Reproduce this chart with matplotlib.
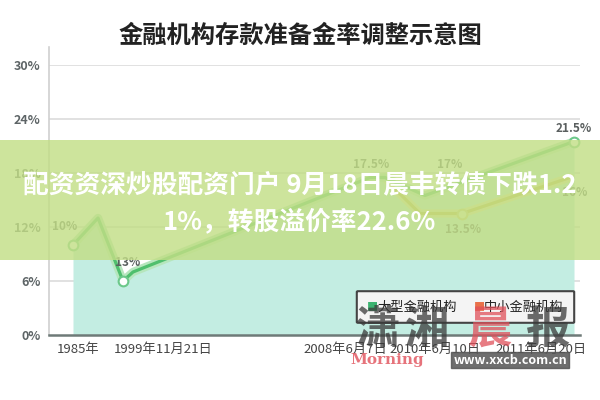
import matplotlib.pyplot as plt
from matplotlib.patches import Rectangle, FancyBboxPatch

plt.rcParams['font.family'] = ['Noto Sans CJK SC', 'DejaVu Sans']

# x 轴位置(非等距) 和数值
big_x = [73, 98, 123, 133, 370, 385, 425, 574]
big_y = [10, 13, 6, 7, 17.5, 17.5, 15.5, 21.5]
small_x = [385, 397, 420, 462, 570]
small_y = [17.5, 16, 13.5, 13.5, 17.5]

tick_pos = [78, 163, 345, 435, 541]
tick_lbl = ['1985年', '1999年11月21日', '2008年6月7日', '2010年6月10日', '2011年6月20日']
yticks = [0, 6, 12, 18, 24, 30]

# 数据标签
lab_txt = ['10%', '13%', '17.5%', '17%', '13.5%', '21.5%', '16%']
lab_x = [65, 128, 371, 450, 463, 574, 575]
lab_y = [12.0, 8.1, 19.0, 19.0, 11.7, 23.0, 15.8]

fig = plt.figure(figsize=(6, 4), dpi=100)
ax = fig.add_axes([49/600, 65/400, 531/600, 270/400])
ax.set_xlim(49, 580)
ax.set_ylim(0, 30)

for v in yticks[1:]:
    ax.axhline(v, color='#dcdcdc', lw=1.2, zorder=0)
ax.fill_between(big_x, big_y, 0, color='#c3ede2', zorder=1, lw=0)
ax.plot(small_x, small_y, color='#ebe3a4', lw=6, solid_capstyle='round', zorder=2)
ax.plot(small_x, small_y, color='#c9b344', lw=2.3, zorder=3)
ax.plot(big_x, big_y, color='#b6e6bd', lw=6, solid_capstyle='round', zorder=4)
ax.plot(big_x, big_y, color='#4fbf6e', lw=2.3, zorder=5)
ax.plot([big_x[0], big_x[2], big_x[-1]], [big_y[0], big_y[2], big_y[-1]], 'o',
        ms=7, mfc='white', mec='#6cc88a', mew=1.5, zorder=6)
ax.plot([small_x[3]], [small_y[3]], 'o', ms=7, mfc='#eef0c0', mec='#d6c970', mew=1.5, zorder=6)

for t, x, y in zip(lab_txt, lab_x, lab_y):
    ax.text(x, y, t, ha='center', va='center', fontsize=8.5, color='#5a5f5f',
            fontweight='bold', fontstretch='condensed', zorder=7)

ax.set_yticks(yticks)
ax.set_yticklabels(['%d%%' % v for v in yticks], fontsize=9, color='#5d6466', fontweight='bold')
ax.set_xticks(tick_pos)
ax.set_xticklabels(tick_lbl, fontsize=9.5, color='#444444')
ax.tick_params(length=0, pad=6)
for s in ['top', 'right']:
    ax.spines[s].set_visible(False)
ax.spines['left'].set_color('#d0d0d0')
ax.spines['left'].set_linewidth(1.2)
ax.spines['left'].set_bounds(0, 32)
ax.spines['bottom'].set_color('#6e7a78')
ax.spines['bottom'].set_linewidth(1.8)
ax.spines['left'].set_clip_on(False)

fig.text(0.5, 0.91, '金融机构存款准备金率调整示意图', ha='center', va='center',
         fontsize=17.5, fontweight='heavy', color='#222222')

# 图例
leg = FancyBboxPatch((358/600, (400-322)/400), 215/600, 30/400, transform=fig.transFigure,
                     boxstyle='round,pad=0.002', fc='#f4f4f4', ec='#444444', lw=1.5, zorder=8)
fig.patches.append(leg)
fig.text(367/600, (400-307)/400, '■', color='#3cb371', fontsize=8, va='center', zorder=9)
fig.text(377/600, (400-307)/400, '大型金融机构', color='#222222', fontsize=9.5, va='center', zorder=9)
fig.text(474/600, (400-307)/400, '■', color='#e9714a', fontsize=8, va='center', zorder=9)
fig.text(484/600, (400-307)/400, '中小金融机构', color='#222222', fontsize=9.5, va='center', zorder=9)

# 水印
wm = ['潇', '湘', '晨', '报']
wm_x = [378, 427, 490, 548]
wm_c = ['#3a3a3a', '#3a3a3a', '#e0505a', '#3a3a3a']
for ch, x, c in zip(wm, wm_x, wm_c):
    fig.text(x/600, (400-330)/400, ch, ha='center', va='center', fontsize=32,
             fontweight='black', color=c, alpha=0.75, zorder=10)
fig.text(387/600, (400-360)/400, 'Morning', ha='center', va='center', fontsize=11,
         family='DejaVu Serif', fontweight='bold', color='#e0505a', alpha=0.8, zorder=10)
fig.text(510/600, (400-360)/400, 'www.xxcb.com.cn', ha='center', va='center', fontsize=9,
         color='white', fontweight='bold', zorder=11,
         bbox=dict(boxstyle='square,pad=0.15', fc='#555555', ec='#555555', alpha=0.85))

# 横幅
fig.patches.append(Rectangle((0, 140/400), 1, 120/400, transform=fig.transFigure,
                             fc='#c2de86', ec='none', alpha=0.82, zorder=20))
fig.text(0.5, (400-185)/400, '配资资深炒股配资门户 9月18日晨丰转债下跌1.2', ha='center', va='center',
         fontsize=18.5, fontweight='bold', color='white', zorder=21)
fig.text(0.5, (400-222)/400, '1%，转股溢价率22.6%', ha='center', va='center',
         fontsize=18.5, fontweight='bold', color='white', zorder=21)

fig.savefig('out.png', dpi=100)
